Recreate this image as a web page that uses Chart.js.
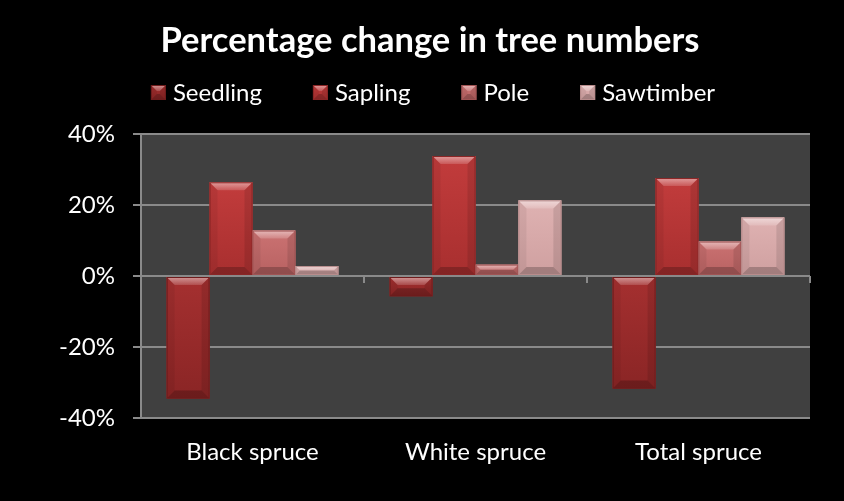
<!DOCTYPE html>
<html>
<head>
<meta charset="utf-8">
<script src="https://cdn.jsdelivr.net/npm/chart.js@4/dist/chart.umd.min.js"></script>
<style>
  html, body { margin: 0; padding: 0; background: #000; }
  #wrap { width: 844px; height: 501px; position: relative; }
</style>
</head>
<body>
<div id="wrap"><canvas id="c" width="844" height="501"></canvas></div>
<script>
const categories = ['Black spruce', 'White spruce', 'Total spruce'];
const seriesNames = ['Seedling', 'Sapling', 'Pole', 'Sawtimber'];
const seedling = [-34.5, -5.7, -31.7];
const sapling = [26.4, 33.8, 27.6];
const pole = [12.8, 3.2, 9.7];
const sawtimber = [2.8, 21.3, 16.5];
const yTicks = [-40, -20, 0, 20, 40];
const chartTitle = 'Percentage change in tree numbers';

const FONT = 'Lato, "Open Sans", sans-serif';
const bodyColors = ['#a53030', '#c23c3c', '#cb7272', '#dfb2b2'];
const bottomColors = ['#8a2525', '#a82f2f', '#b86262', '#cfa0a0'];
const edgeColors = ['#6e1c1c', '#8a2626', '#a05454', '#b88c8c'];

const bgPlugin = {
  id: 'bg',
  beforeDraw(chart) {
    const ctx = chart.ctx;
    ctx.save();
    ctx.fillStyle = '#000';
    ctx.fillRect(0, 0, chart.width, chart.height);
    const a = chart.chartArea;
    ctx.fillStyle = '#404040';
    ctx.fillRect(a.left, a.top, a.right - a.left, a.bottom - a.top);
    ctx.restore();
  }
};

function bevelRect(ctx, l, t, w, h, di, maxD) {
  const r = l + w, b = t + h;
  const d = Math.min(maxD, h / 2, w / 2);
  const g = ctx.createLinearGradient(0, t, 0, b);
  g.addColorStop(0, bodyColors[di]);
  g.addColorStop(1, bottomColors[di]);
  ctx.fillStyle = g;
  ctx.fillRect(l, t, w, h);
  ctx.beginPath();
  ctx.moveTo(l, t); ctx.lineTo(r, t); ctx.lineTo(r - d, t + d); ctx.lineTo(l + d, t + d); ctx.closePath();
  const gt = ctx.createLinearGradient(0, t, 0, t + d);
  gt.addColorStop(0, 'rgba(255,255,255,0.5)');
  gt.addColorStop(1, 'rgba(255,255,255,0.15)');
  ctx.fillStyle = gt; ctx.fill();
  ctx.beginPath();
  ctx.moveTo(l, t); ctx.lineTo(l + d, t + d); ctx.lineTo(l + d, b - d); ctx.lineTo(l, b); ctx.closePath();
  ctx.fillStyle = 'rgba(0,0,0,0.06)'; ctx.fill();
  ctx.beginPath();
  ctx.moveTo(r, t); ctx.lineTo(r - d, t + d); ctx.lineTo(r - d, b - d); ctx.lineTo(r, b); ctx.closePath();
  ctx.fillStyle = 'rgba(0,0,0,0.10)'; ctx.fill();
  ctx.beginPath();
  ctx.moveTo(l, b); ctx.lineTo(r, b); ctx.lineTo(r - d, b - d); ctx.lineTo(l + d, b - d); ctx.closePath();
  ctx.fillStyle = 'rgba(0,0,0,0.22)'; ctx.fill();
  ctx.strokeStyle = edgeColors[di];
  ctx.lineWidth = 1;
  ctx.strokeRect(l + 0.5, t + 0.5, w - 1, h - 1);
}

const bevelPlugin = {
  id: 'bevel',
  afterDatasetsDraw(chart) {
    const ctx = chart.ctx;
    chart.data.datasets.forEach((ds, di) => {
      const meta = chart.getDatasetMeta(di);
      meta.data.forEach(bar => {
        const p = bar.getProps(['x', 'y', 'base', 'width'], true);
        const l = p.x - p.width / 2;
        const t = Math.min(p.y, p.base), b = Math.max(p.y, p.base);
        if (b - t < 1) return;
        ctx.save();
        bevelRect(ctx, l, t, p.width, b - t, di, 8);
        ctx.restore();
      });
    });
  }
};

const titleLegendPlugin = {
  id: 'titleLegend',
  afterDraw(chart) {
    const ctx = chart.ctx;
    ctx.save();
    // title
    ctx.font = 'bold 34.5px ' + FONT;
    ctx.fillStyle = '#ffffff';
    ctx.textAlign = 'center';
    ctx.textBaseline = 'alphabetic';
    ctx.fillText(chartTitle, 430, 52);
    // legend
    ctx.font = '24px ' + FONT;
    const box = 15, boxGap = 7, itemGap = 51;
    const widths = chart.data.datasets.map(ds => box + boxGap + ctx.measureText(ds.label).width);
    const total = widths.reduce((a, b) => a + b, 0) + itemGap * (widths.length - 1);
    let x = 433 - total / 2;
    chart.data.datasets.forEach((ds, di) => {
      bevelRect(ctx, x, 85, box, box, di, 6);
      ctx.fillStyle = '#ffffff';
      ctx.textAlign = 'left';
      ctx.fillText(ds.label, x + box + boxGap, 101);
      x += widths[di] + itemGap;
    });
    ctx.restore();
  }
};

const zeroTicksPlugin = {
  id: 'zeroTicks',
  afterDraw(chart) {
    const xs = chart.scales.x, ys = chart.scales.y;
    const y0 = ys.getPixelForValue(0);
    const ctx = chart.ctx;
    ctx.save();
    ctx.strokeStyle = '#8a8a8a';
    ctx.lineWidth = 2;
    for (let i = 1; i <= categories.length; i++) {
      const x = i < categories.length
        ? (xs.getPixelForValue(i - 1) + xs.getPixelForValue(i)) / 2
        : xs.right;
      ctx.beginPath();
      ctx.moveTo(x, y0);
      ctx.lineTo(x, y0 + 7);
      ctx.stroke();
    }
    ctx.restore();
  }
};

const seriesData = [seedling, sapling, pole, sawtimber];

new Chart(document.getElementById('c'), {
  type: 'bar',
  data: {
    labels: categories,
    datasets: seriesNames.map((n, i) => ({
      label: n,
      data: seriesData[i],
      backgroundColor: bodyColors[i],
      borderWidth: 0,
      categoryPercentage: 0.77,
      barPercentage: 1.0
    }))
  },
  plugins: [bgPlugin, bevelPlugin, titleLegendPlugin, zeroTicksPlugin],
  options: {
    responsive: false,
    animation: false,
    devicePixelRatio: 1,
    layout: { padding: { left: 0, right: 34, top: 134, bottom: 0 } },
    plugins: {
      title: { display: false },
      legend: { display: false },
      tooltip: { enabled: false }
    },
    scales: {
      x: {
        grid: { display: false },
        border: { display: false },
        ticks: { color: '#ffffff', font: { family: FONT, size: 24 }, padding: 12 },
        afterFit(scale) { scale.height = 83; }
      },
      y: {
        min: -40, max: 40,
        afterBuildTicks(scale) { scale.ticks = yTicks.map(v => ({ value: v })); },
        grid: { color: '#8a8a8a', lineWidth: 2, tickLength: 8 },
        border: { display: true, color: '#8a8a8a', width: 2 },
        ticks: {
          color: '#ffffff',
          font: { family: FONT, size: 24 },
          padding: 18,
          callback: v => v + '%'
        },
        afterFit(scale) { scale.width = 141; }
      }
    }
  }
});
</script>
</body>
</html>
